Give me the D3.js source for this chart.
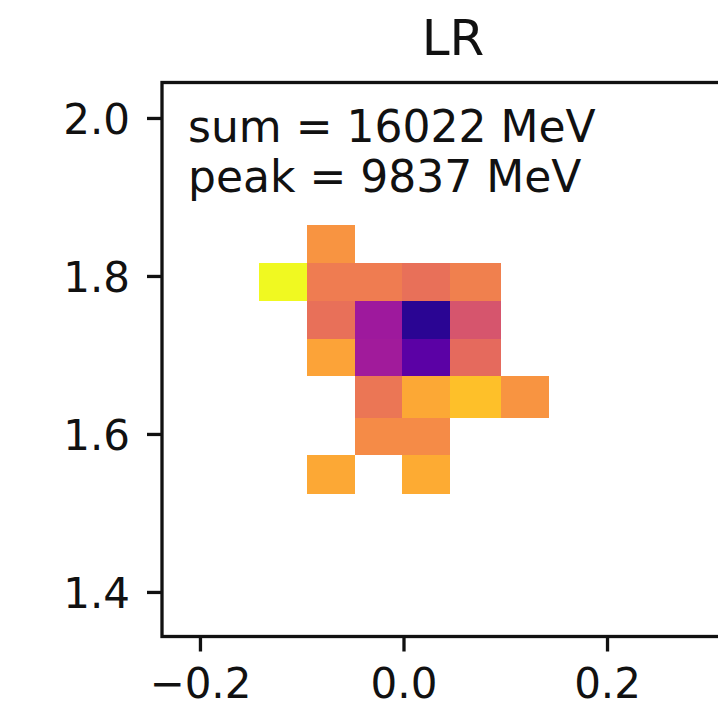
<!DOCTYPE html>
<html>
<head>
<meta charset="utf-8">
<script src="https://cdn.jsdelivr.net/npm/d3@7/dist/d3.min.js"></script>
<style>
  body { margin: 0; background: #fff; }
  svg text { font-family: "DejaVu Sans", sans-serif; fill: #111; }
</style>
</head>
<body>
<script>
// bin edges of the cells (x across, y down from the top row)
var xEdges = [-0.1417, -0.0945, -0.0477, -0.0010, 0.0460, 0.0955, 0.1433];
var yEdges = [1.8642, 1.8165, 1.7684, 1.7203, 1.6730, 1.6199, 1.5730, 1.5237];

// energy per cell in MeV, rows top to bottom, null = empty
var row0 = [null, 27, null, null, null, null];
var row1 = [3, 48, 48, 67, 44, null];
var row2 = [null, 67, 848, 9837, 144, null];
var row3 = [null, 19, 780, 3798, 80, null];
var row4 = [null, null, 57, 17, 10, 27];
var row5 = [null, null, 34, 34, null, null];
var row6 = [null, 17, null, 16, null, null];
var energies = [row0, row1, row2, row3, row4, row5, row6];

var xTicks = [-0.2, 0.0, 0.2];
var yTicks = [1.4, 1.6, 1.8, 2.0];
var title = "LR";

var width = 718, height = 709;
// plot box (right edge runs past the window, as in the original crop)
var boxL = 162, boxR = 744, boxT = 82.5, boxB = 636.5;
var lw = 3.3;

var x = d3.scaleLinear()
    .domain([-0.2373, 0.3346])
    .range([boxL, boxR]);

var y = d3.scaleLinear()
    .domain([1.3436, 2.0449])
    .range([boxB, boxT]);

var color = d3.scaleSequentialLog()
    .domain([3.2, 15000])
    .interpolator(function(t){ return d3.interpolatePlasma(1 - t); });

var svg = d3.select("body").append("svg")
    .attr("width", width)
    .attr("height", height);

// flatten the grid
var cells = [];
energies.forEach(function(row, r){
  row.forEach(function(v, c){
    if(v != null) cells.push({r: r, c: c, v: v});
  });
});

svg.append("g").selectAll("rect")
    .data(cells)
  .enter().append("rect")
    .attr("x", d => x(xEdges[d.c]))
    .attr("width", d => x(xEdges[d.c + 1]) - x(xEdges[d.c]))
    .attr("y", d => y(yEdges[d.r]))
    .attr("height", d => y(yEdges[d.r + 1]) - y(yEdges[d.r]))
    .attr("fill", d => color(d.v))
    .attr("shape-rendering", "crispEdges");

// axes
var xAxis = svg.append("g")
    .attr("transform", "translate(0," + boxB + ")")
    .call(d3.axisBottom(x).tickValues(xTicks).tickFormat(d3.format(".1f"))
      .tickSize(15).tickSizeOuter(0).tickPadding(15));

var yAxis = svg.append("g")
    .attr("transform", "translate(" + boxL + ",0)")
    .call(d3.axisLeft(y).tickValues(yTicks).tickFormat(d3.format(".1f"))
      .tickSize(15).tickSizeOuter(0).tickPadding(17));

[xAxis, yAxis].forEach(function(g){
  g.select(".domain").remove();
  g.attr("font-family", null).attr("font-size", null);
  g.selectAll("line").attr("stroke", "#111").attr("stroke-width", lw);
  g.selectAll("text").style("font-size", "42px");
});
yAxis.selectAll("text").attr("dy", "0.36em");
xAxis.selectAll("text").attr("dy", "0.76em");

// frame
svg.append("rect")
    .attr("x", boxL)
    .attr("y", boxT)
    .attr("width", boxR - boxL)
    .attr("height", boxB - boxT)
    .attr("fill", "none")
    .attr("stroke", "#111")
    .attr("stroke-width", lw);

svg.append("text")
    .attr("x", (boxL + boxR) / 2)
    .attr("y", 55)
    .attr("text-anchor", "middle")
    .style("font-size", "50px")
    .text(title);

var total = d3.sum(cells, d => d.v);
var peak = d3.max(cells, d => d.v);

var info = svg.append("text")
    .attr("x", boxL + 26)
    .attr("y", 142)
    .style("font-size", "44px");
info.append("tspan").text("sum = " + Math.round(total) + " MeV");
info.append("tspan")
    .attr("x", boxL + 26)
    .attr("dy", 50)
    .text("peak = " + Math.round(peak) + " MeV");
</script>
</body>
</html>
